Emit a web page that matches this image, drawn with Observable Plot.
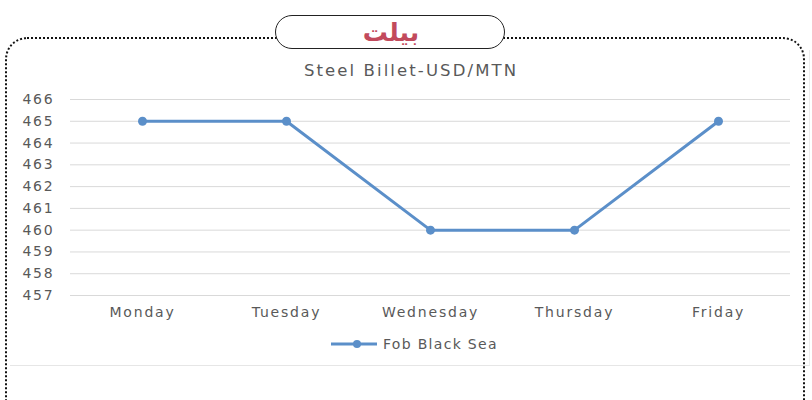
<!DOCTYPE html>
<html>
<head>
<meta charset="utf-8">
<script src="https://cdn.jsdelivr.net/npm/d3@7"></script>
<script src="https://cdn.jsdelivr.net/npm/@observablehq/plot@0.6"></script>
<style>
  html, body { margin: 0; padding: 0; background: #fff; width: 812px; height: 400px; overflow: hidden; }
  #wrap { position: relative; width: 812px; height: 400px; font-family: "DejaVu Sans", sans-serif; }
  #frame { position: absolute; left: 5px; top: 37px; width: 800px; height: 390px; border: 2px dotted #111; border-radius: 22px; box-sizing: border-box; }
  #area { position: absolute; left: 10px; top: 50px; width: 800px; height: 316px; border-right: 1px solid #ececec; border-bottom: 1px solid #e6e6e6; box-sizing: border-box; }
  #pill { position: absolute; left: 275px; top: 15px; width: 230px; height: 34px; border: 1.5px solid #222; border-radius: 17px; background: #fff; box-sizing: border-box; text-align: center; }
  #pill span { display: inline-block; color: #c24a5c; font-weight: bold; font-size: 25px; line-height: 30px; font-family: "DejaVu Sans", sans-serif; margin-left: 2px; position: relative; top: 2px; }
  #title { position: absolute; left: 0; width: 812px; top: 61px; text-align: center; padding-left: 10px; box-sizing: border-box; font-size: 16.5px; letter-spacing: 2.1px; color: #595959; font-family: "DejaVu Sans", sans-serif; }
  #legend { position: absolute; left: 330px; top: 336px; display: flex; align-items: center; font-size: 14px; letter-spacing: 1.3px; color: #595959; }
  #legend svg { margin-right: 5px; }
  #chart { position: absolute; left: 0; top: 0; }
</style>
</head>
<body>
<div id="wrap">
  <div id="area"></div>
  <div id="chart"></div>
  <div id="frame"></div>
  <div id="pill"><span>بیلت</span></div>
  <div id="title">Steel Billet-USD/MTN</div>
  <div id="legend"></div>
</div>
<script>
const days = ["Monday", "Tuesday", "Wednesday", "Thursday", "Friday"];
const prices = [465, 465, 460, 460, 465];
const yTicks = [457, 458, 459, 460, 461, 462, 463, 464, 465, 466];
const seriesName = "Fob Black Sea";
const lineColor = "#5b8fc9";

const data = days.map((d, i) => ({day: d, price: prices[i]}));

const chart = Plot.plot({
  width: 812,
  height: 400,
  marginLeft: 70,
  marginRight: 22,
  marginTop: 99,
  marginBottom: 105,
  style: {background: "transparent", fontFamily: "DejaVu Sans, sans-serif", fontSize: "14px", color: "#595959", letterSpacing: "1.8px"},
  x: {type: "point", domain: days, padding: 0.5, label: null},
  y: {domain: [457, 466], ticks: yTicks, label: null},
  marks: [
    Plot.gridY(yTicks, {stroke: "#d9d9d9", strokeOpacity: 1, strokeWidth: 1}),
    Plot.axisY(yTicks, {tickSize: 0, tickPadding: 16, fill: "#595959", fontSize: 14, label: null}),
    Plot.axisX({tickSize: 0, tickPadding: 12, fill: "#595959", fontSize: 14, label: null}),
    Plot.line(data, {x: "day", y: "price", stroke: lineColor, strokeWidth: 3}),
    Plot.dot(data, {x: "day", y: "price", fill: lineColor, r: 4.5})
  ]
});
document.getElementById("chart").appendChild(chart);

const leg = document.getElementById("legend");
const ns = "http://www.w3.org/2000/svg";
const s = document.createElementNS(ns, "svg");
s.setAttribute("width", 48); s.setAttribute("height", 12);
const ln = document.createElementNS(ns, "line");
ln.setAttribute("x1", 1); ln.setAttribute("x2", 47); ln.setAttribute("y1", 6); ln.setAttribute("y2", 6);
ln.setAttribute("stroke", lineColor); ln.setAttribute("stroke-width", 3);
const c = document.createElementNS(ns, "circle");
c.setAttribute("cx", 27); c.setAttribute("cy", 6); c.setAttribute("r", 4); c.setAttribute("fill", lineColor);
s.appendChild(ln); s.appendChild(c);
leg.appendChild(s);
const t = document.createElement("span"); t.textContent = seriesName; leg.appendChild(t);
</script>
</body>
</html>
